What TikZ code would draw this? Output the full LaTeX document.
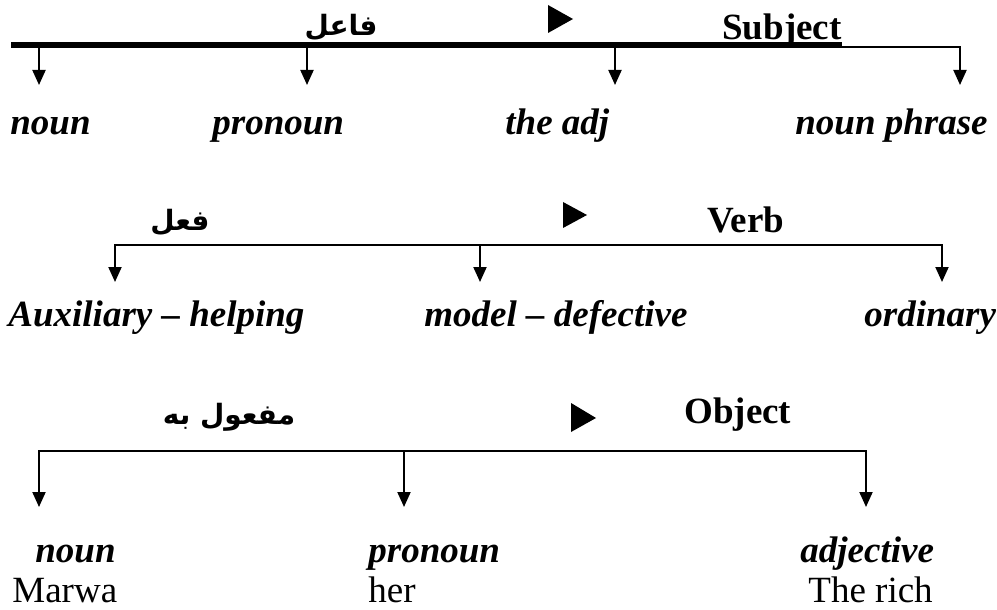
\documentclass[tikz,border=0pt]{standalone}
\usepackage{fontspec}
\setmainfont{Liberation Serif}
\newfontfamily\arabicfont[Script=Arabic]{DejaVu Sans}
\TeXXeTstate=1
\usetikzlibrary{arrows.meta}

\begin{document}
\begin{tikzpicture}[
    x=0.5pt, y=-0.5pt,
    every node/.style={inner sep=0pt, font=\fontsize{18.5}{22}\selectfont},
    kind/.style={anchor=base west, font=\fontsize{18.5}{22}\selectfont\bfseries\itshape},
    sample/.style={anchor=base west},
    head/.style={anchor=base west, font=\fontsize{18.5}{22}\selectfont\bfseries},
    arab/.style={anchor=base, font=\fontsize{14}{16}\selectfont\arabicfont\bfseries},
    arr/.style={-{Triangle[width=6.5pt,length=7.5pt]}, line width=1pt},
    dblarr/.style={{Triangle[width=6.5pt,length=7.5pt]}-{Triangle[width=6.5pt,length=7.5pt]}, line width=1pt},
    pointer/.style={fill=black},
]
\useasboundingbox (0,0) rectangle (997,610);

% subject
\node[arab] (fael) at (341,36) {\beginR فاعل\endR};
\fill[pointer] (548,5) -- (573,19) -- (548,33) -- cycle;
\node[head] (subj) at (722,40) {Subject};
\coordinate (sTL) at (11,44);
\coordinate (sL) at (11,47.5);
\coordinate (sR) at (960,47.5);
\coordinate (sb1) at (39,47.5);
\coordinate (sb2) at (307,47.5);
\coordinate (sb3) at (615,47.5);
\coordinate (st1) at (39,85);
\coordinate (st2) at (307,85);
\coordinate (st3) at (615,85);
\coordinate (st4) at (960,85);
\draw[line width=1.6pt] (sTL) -- (sTL -| subj.east);
\draw[arr] (sL) -- (sR) -- (st4);
\draw[arr] (sb1) -- (st1);
\draw[arr] (sb2) -- (st2);
\draw[arr] (sb3) -- (st3);
\node[kind] (sNoun) at (10,135) {noun};
\node[kind] (sPron) at (212,135) {pronoun};
\node[kind] (sAdj) at (505,135) {the adj};
\node[kind] (sPhr) at (795,135) {noun phrase};

% verb
\node[arab] (feel) at (180,230) {\beginR فعل\endR};
\fill[pointer] (563,202) -- (587,215) -- (563,228) -- cycle;
\node[head] (verb) at (707,233) {Verb};
\coordinate (vR) at (942,245);
\coordinate (vb2) at (480,245);
\coordinate (vt1) at (115,282);
\coordinate (vt2) at (480,282);
\coordinate (vt3) at (942,282);
\draw[dblarr] (vt1) |- (vR) -- (vt3);
\draw[arr] (vb2) -- (vt2);
\node[kind] (vAux) at (8,326) {Auxiliary \textendash{} helping};
\node[kind] (vMod) at (424,326) {model \textendash{} defective};
\node[kind] (vOrd) at (864,326) {ordinary};

% object
\node[arab] (mafool) at (229,424) {\beginR مفعول به\endR};
\fill[pointer] (571,403) -- (596,418) -- (571,432) -- cycle;
\node[head] (obj) at (684,423) {Object};
\coordinate (oR) at (866,451);
\coordinate (ob2) at (404,451);
\coordinate (ot1) at (39,507);
\coordinate (ot2) at (404,507);
\coordinate (ot3) at (866,507);
\draw[dblarr] (ot1) |- (oR) -- (ot3);
\draw[arr] (ob2) -- (ot2);
\node[kind] (oNoun) at (35,562) {noun};
\node[kind] (oPron) at (368,562) {pronoun};
\node[kind] (oAdj) at (800,562) {adjective};
\node[sample] (marwa) at (12,602) {Marwa};
\node[sample] (her) at (368,602) {her};
\node[sample] (rich) at (808,602) {The rich};

\end{tikzpicture}
\end{document}
